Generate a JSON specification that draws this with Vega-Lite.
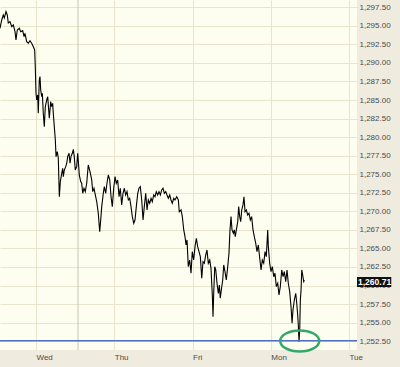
{
  "$schema": "https://vega.github.io/schema/vega-lite/v6.json",
  "width": 357,
  "height": 350,
  "autosize": {"type": "none"},
  "padding": {"left": 0, "top": 0, "right": 43, "bottom": 17},
  "background": "#efecdf",
  "config": {
    "view": {"fill": "#fefef0", "stroke": null},
    "axis": {"labelFont": "Liberation Sans", "labelFontSize": 8, "labelColor": "#4a4a4a", "domain": false, "ticks": false, "gridColor": "#e8e5cc", "gridWidth": 1, "gridOpacity": 1, "title": null, "labelOverlap": false}
  },
  "datasets": {
    "price": [
      {"t":0.540,"v":1294.67},{"t":0.562,"v":1295.79},{"t":0.582,"v":1296.46},{"t":0.595,"v":1296.06},{"t":0.617,"v":1296.91},{"t":0.633,"v":1296.46},{"t":0.646,"v":1295.38},{"t":0.668,"v":1295.56},{"t":0.690,"v":1294.89},{"t":0.710,"v":1295.12},{"t":0.732,"v":1294.21},{"t":0.744,"v":1293.09},{"t":0.761,"v":1294.44},{"t":0.787,"v":1294.67},{"t":0.804,"v":1294.21},{"t":0.830,"v":1294.35},{"t":0.847,"v":1293.54},{"t":0.859,"v":1293.99},{"t":0.881,"v":1292.86},{"t":0.902,"v":1292.65},{"t":0.923,"v":1293.00},{"t":0.945,"v":1292.65},{"t":0.966,"v":1292.19},{"t":0.983,"v":1291.75},{"t":0.991,"v":1289.49},{"t":1.000,"v":1285.91},{"t":1.009,"v":1285.01},{"t":1.022,"v":1285.68},{"t":1.029,"v":1283.21},{"t":1.042,"v":1287.70},{"t":1.051,"v":1288.15},{"t":1.060,"v":1286.35},{"t":1.073,"v":1285.45},{"t":1.081,"v":1285.91},{"t":1.093,"v":1283.21},{"t":1.106,"v":1281.41},{"t":1.119,"v":1284.10},{"t":1.137,"v":1285.01},{"t":1.150,"v":1285.45},{"t":1.162,"v":1283.66},{"t":1.170,"v":1282.54},{"t":1.188,"v":1284.78},{"t":1.201,"v":1284.10},{"t":1.213,"v":1284.56},{"t":1.221,"v":1283.21},{"t":1.234,"v":1281.41},{"t":1.247,"v":1279.62},{"t":1.256,"v":1277.37},{"t":1.272,"v":1278.04},{"t":1.285,"v":1277.15},{"t":1.298,"v":1271.97},{"t":1.311,"v":1274.00},{"t":1.329,"v":1275.13},{"t":1.341,"v":1275.80},{"t":1.349,"v":1274.67},{"t":1.362,"v":1275.57},{"t":1.380,"v":1276.02},{"t":1.393,"v":1276.48},{"t":1.405,"v":1277.37},{"t":1.422,"v":1277.82},{"t":1.435,"v":1276.48},{"t":1.447,"v":1277.37},{"t":1.464,"v":1277.82},{"t":1.477,"v":1278.36},{"t":1.489,"v":1277.37},{"t":1.502,"v":1275.57},{"t":1.520,"v":1276.02},{"t":1.533,"v":1277.82},{"t":1.546,"v":1276.02},{"t":1.553,"v":1274.90},{"t":1.571,"v":1274.00},{"t":1.584,"v":1273.78},{"t":1.597,"v":1272.43},{"t":1.613,"v":1273.11},{"t":1.630,"v":1272.65},
      {"t":1.648,"v":1273.78},{"t":1.668,"v":1276.25},{"t":1.690,"v":1275.34},{"t":1.712,"v":1274.23},{"t":1.725,"v":1272.65},{"t":1.741,"v":1273.11},{"t":1.754,"v":1272.43},{"t":1.776,"v":1271.30},{"t":1.796,"v":1269.74},{"t":1.814,"v":1267.26},{"t":1.827,"v":1268.83},{"t":1.840,"v":1270.63},{"t":1.860,"v":1272.43},{"t":1.873,"v":1273.32},{"t":1.891,"v":1272.43},{"t":1.907,"v":1273.78},{"t":1.924,"v":1274.90},{"t":1.942,"v":1274.23},{"t":1.959,"v":1271.97},{"t":1.975,"v":1270.63},{"t":1.993,"v":1273.11},{"t":2.010,"v":1274.67},{"t":2.026,"v":1273.78},{"t":2.044,"v":1274.23},{"t":2.061,"v":1271.97},{"t":2.077,"v":1273.11},{"t":2.095,"v":1270.86},{"t":2.112,"v":1272.43},{"t":2.129,"v":1273.11},{"t":2.146,"v":1272.20},{"t":2.163,"v":1272.65},{"t":2.180,"v":1271.53},{"t":2.197,"v":1271.76},{"t":2.214,"v":1270.63},{"t":2.231,"v":1269.28},{"t":2.249,"v":1268.39},{"t":2.265,"v":1268.83},{"t":2.282,"v":1270.63},{"t":2.300,"v":1272.43},{"t":2.316,"v":1273.11},{"t":2.333,"v":1273.32},{"t":2.351,"v":1271.53},{"t":2.368,"v":1268.83},{"t":2.384,"v":1270.63},{"t":2.402,"v":1272.43},{"t":2.419,"v":1270.18},{"t":2.435,"v":1271.53},{"t":2.453,"v":1271.08},{"t":2.470,"v":1271.76},{"t":2.486,"v":1271.30},{"t":2.504,"v":1272.20},{"t":2.521,"v":1271.97},{"t":2.537,"v":1272.65},{"t":2.555,"v":1272.20},{"t":2.572,"v":1272.65},{"t":2.589,"v":1272.20},{"t":2.606,"v":1272.88},{"t":2.623,"v":1273.11},{"t":2.640,"v":1272.43},{"t":2.658,"v":1272.65},{"t":2.674,"v":1272.20},{"t":2.691,"v":1271.76},{"t":2.709,"v":1272.20},{"t":2.725,"v":1271.53},{"t":2.742,"v":1271.08},{"t":2.760,"v":1271.76},
      {"t":2.776,"v":1271.53},{"t":2.798,"v":1271.97},{"t":2.819,"v":1271.53},{"t":2.831,"v":1269.95},{"t":2.853,"v":1270.18},{"t":2.870,"v":1269.28},{"t":2.888,"v":1267.49},{"t":2.904,"v":1266.58},{"t":2.917,"v":1265.47},{"t":2.930,"v":1266.14},{"t":2.946,"v":1262.54},{"t":2.964,"v":1263.44},{"t":2.981,"v":1261.65},{"t":2.997,"v":1264.56},{"t":3.015,"v":1263.44},{"t":3.032,"v":1265.24},{"t":3.049,"v":1266.37},{"t":3.066,"v":1265.24},{"t":3.083,"v":1264.56},{"t":3.100,"v":1263.89},{"t":3.118,"v":1260.98},{"t":3.134,"v":1263.21},{"t":3.151,"v":1263.00},{"t":3.169,"v":1264.12},{"t":3.185,"v":1264.79},{"t":3.202,"v":1263.00},{"t":3.220,"v":1263.44},{"t":3.236,"v":1262.32},{"t":3.253,"v":1258.73},{"t":3.262,"v":1255.80},{"t":3.271,"v":1258.95},{"t":3.284,"v":1262.54},{"t":3.297,"v":1262.10},{"t":3.313,"v":1260.30},{"t":3.330,"v":1258.95},{"t":3.343,"v":1260.07},{"t":3.355,"v":1258.28},{"t":3.368,"v":1259.40},{"t":3.386,"v":1260.75},{"t":3.399,"v":1262.77},{"t":3.415,"v":1261.87},{"t":3.432,"v":1260.75},{"t":3.450,"v":1262.54},{"t":3.466,"v":1264.35},{"t":3.479,"v":1267.49},{"t":3.492,"v":1269.28},{"t":3.505,"v":1267.49},{"t":3.522,"v":1267.04},{"t":3.534,"v":1267.49},{"t":3.547,"v":1266.58},{"t":3.560,"v":1267.49},{"t":3.578,"v":1268.61},{"t":3.590,"v":1270.63},{"t":3.603,"v":1269.28},{"t":3.616,"v":1268.61},{"t":3.629,"v":1270.18},{"t":3.645,"v":1270.86},{"t":3.658,"v":1271.97},{"t":3.671,"v":1269.95},{"t":3.688,"v":1270.18},{"t":3.705,"v":1269.51},{"t":3.722,"v":1269.74},{"t":3.739,"v":1268.83},{"t":3.756,"v":1269.28},{"t":3.773,"v":1267.49},{"t":3.790,"v":1266.58},{"t":3.808,"v":1265.69},{"t":3.824,"v":1264.56},{"t":3.841,"v":1265.47},{"t":3.859,"v":1263.67},{"t":3.876,"v":1262.10},{"t":3.892,"v":1263.44},{"t":3.910,"v":1263.00},{"t":3.927,"v":1264.56},{"t":3.943,"v":1263.89},{"t":3.961,"v":1267.49},{"t":3.969,"v":1265.24},{"t":3.986,"v":1263.00},{"t":4.003,"v":1261.87},{"t":4.020,"v":1262.54},{"t":4.038,"v":1261.19},{"t":4.054,"v":1261.65},{"t":4.071,"v":1259.85},{"t":4.089,"v":1260.30},{"t":4.105,"v":1258.73},{"t":4.122,"v":1259.85},{"t":4.140,"v":1262.10},{"t":4.157,"v":1261.19},{"t":4.173,"v":1261.87},{"t":4.191,"v":1260.52},{"t":4.208,"v":1262.10},{"t":4.224,"v":1260.30},{"t":4.242,"v":1259.17},{"t":4.259,"v":1257.15},{"t":4.272,"v":1254.91},{"t":4.284,"v":1256.70},{"t":4.301,"v":1258.05},{"t":4.319,"v":1258.95},{"t":4.332,"v":1257.61},{"t":4.344,"v":1256.03},{"t":4.352,"v":1254.68},{"t":4.361,"v":1252.43},{"t":4.370,"v":1254.01},{"t":4.378,"v":1258.05},{"t":4.387,"v":1259.40},{"t":4.396,"v":1262.10},{"t":4.408,"v":1261.42},{"t":4.421,"v":1260.52},{"t":4.431,"v":1260.71}
    ]
  },
  "encoding": {
    "x": {"field": "t", "type": "quantitative", "scale": {"domain": [0.54, 5.102], "nice": false, "zero": false},
      "axis": {"orient": "bottom", "values": [1, 2, 3, 4, 5], "labelExpr": "['','Wed','Thu','Fri','Mon','Tue'][datum.value]", "labelAlign": "left", "labelPadding": 3, "grid": true}},
    "y": {"field": "v", "type": "quantitative", "scale": {"domain": [1251.31, 1298.48], "nice": false, "zero": false},
      "axis": {"orient": "right", "values": [1252.5, 1255, 1257.5, 1260, 1262.5, 1265, 1267.5, 1270, 1272.5, 1275, 1277.5, 1280, 1282.5, 1285, 1287.5, 1290, 1292.5, 1295, 1297.5], "format": ",.2f", "labelPadding": 2, "grid": true}}
  },
  "layer": [
    {
      "data": {"values": [{"t": 1.537, "v": 1251.31, "v2": 1298.48}]},
      "mark": {"type": "rule", "color": "#c9c5b3", "strokeWidth": 1},
      "encoding": {"y2": {"field": "v2"}}
    },
    {
      "data": {"name": "price"},
      "mark": {"type": "line", "color": "#000000", "strokeWidth": 1.1, "interpolate": "linear"}
    },
    {
      "data": {"values": [{"t": 0.54, "t2": 5.102, "v": 1252.55}]},
      "mark": {"type": "rule", "color": "#4f6fc4", "strokeWidth": 1.5},
      "encoding": {"x2": {"field": "t2"}}
    },
    {
      "data": {"values": [{"t": 4.37, "v": 1252.53}]},
      "mark": {"type": "point", "shape": "M -1 0 A 1 0.54 0 1 1 1 0 A 1 0.54 0 1 1 -1 0 Z", "size": 1521, "filled": false, "stroke": "#34a86a", "strokeWidth": 2.5, "opacity": 1, "clip": false}
    },
    {
      "data": {"values": [{"t": 5.102, "t2": 5.54, "v": 1259.8, "v2": 1261.15}]},
      "mark": {"type": "rect", "color": "#111111", "clip": false},
      "encoding": {"x2": {"field": "t2"}, "y2": {"field": "v2"}}
    },
    {
      "data": {"values": [{"t": 5.115, "v": 1260.5, "label": "1,260.71"}]},
      "mark": {"type": "text", "color": "#ffffff", "font": "Liberation Sans", "fontSize": 8.5, "fontWeight": "bold", "align": "left", "baseline": "middle", "clip": false},
      "encoding": {"text": {"field": "label"}}
    }
  ]
}
